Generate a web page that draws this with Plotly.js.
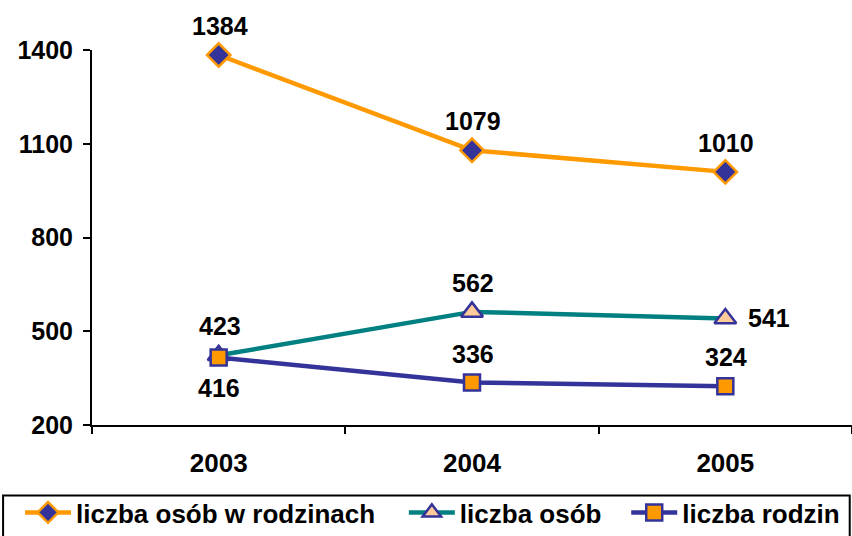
<!DOCTYPE html>
<html><head><meta charset="utf-8">
<script src="https://cdn.plot.ly/plotly-3.0.1.min.js"></script>
<style>body{margin:0;padding:0;background:#fff}#chart{width:852px;height:536px}</style>
</head><body><div id="chart"></div>
<script>
const years = ['2003', '2004', '2005'];
const osobWRodzinach = [1384, 1079, 1010];
const liczbaOsob = [423, 562, 541];
const liczbaRodzin = [416, 336, 324];
const seriesNames = ['liczba osób w rodzinach', 'liczba osób', 'liczba rodzin'];
const yTicks = [200, 500, 800, 1100, 1400];

// where each series' value labels sit relative to its points
const labelSide = [
  ['above', 'above', 'above'],
  ['above', 'above', 'right'],
  ['below', 'above', 'above']
];

const FONT = 'Liberation Sans, Arial, sans-serif';
const lblFont = {family: FONT, size: 25, color: '#000', weight: 'bold'};

const traces = [
  {
    x: years, y: osobWRodzinach, name: seriesNames[0], type: 'scatter', mode: 'lines+markers',
    line: {color: '#FF9900', width: 4.5}, legend: 'legend',
    marker: {symbol: 'diamond', size: 18, color: '#333399', line: {color: '#FF9900', width: 2.5}},
    cliponaxis: false
  },
  {
    x: years, y: liczbaOsob, name: seriesNames[1], type: 'scatter', mode: 'lines+markers',
    line: {color: '#008080', width: 4.5}, legend: 'legend2',
    marker: {symbol: 'triangle-up', size: 19, color: '#FFCC99', line: {color: '#333399', width: 2.5}},
    cliponaxis: false
  },
  {
    x: years, y: liczbaRodzin, name: seriesNames[2], type: 'scatter', mode: 'lines+markers',
    line: {color: '#333399', width: 4.5}, legend: 'legend3',
    marker: {symbol: 'square', size: 16, color: '#FF9900', line: {color: '#333399', width: 2.5}},
    cliponaxis: false
  }
];

const allSeries = [osobWRodzinach, liczbaOsob, liczbaRodzin];
const annotations = [];
allSeries.forEach((vals, s) => {
  vals.forEach((v, i) => {
    const side = labelSide[s][i];
    const a = {
      x: i, y: v, xref: 'x', yref: 'y', text: String(v), showarrow: false,
      font: lblFont, xanchor: 'center', yanchor: 'middle'
    };
    if (side === 'above') { a.yshift = 29; a.xshift = 1; }
    else if (side === 'below') { a.yshift = -30; }
    else { a.xanchor = 'left'; a.xshift = 21; }
    annotations.push(a);
  });
});

const legendBase = {
  orientation: 'h', xref: 'container', yref: 'container', xanchor: 'left', y: -0.008, yanchor: 'bottom',
  borderwidth: 0, bgcolor: 'rgba(0,0,0,0)',
  font: {family: FONT, size: 26, color: '#000', weight: 'bold'},
  itemwidth: 46
};

const layout = {
  width: 852, height: 536,
  margin: {l: 92, r: 0, t: 50, b: 111},
  paper_bgcolor: '#fff', plot_bgcolor: '#fff',
  font: {family: FONT, size: 22, color: '#000', weight: 'bold'},
  showlegend: true,
  xaxis: {
    type: 'category', tickson: 'boundaries', ticks: 'outside', ticklen: 7, tickwidth: 2, tickcolor: '#000',
    showline: true, linecolor: '#000', linewidth: 2, showgrid: false, zeroline: false,
    ticklabelstandoff: 14,
    tickfont: {family: FONT, size: 26, color: '#000', weight: 'bold'}, range: [-0.5, 2.5]
  },
  yaxis: {
    range: [200, 1400], tickvals: yTicks, ticktext: yTicks.map(String),
    ticks: 'outside', ticklen: 7, tickwidth: 2, tickcolor: '#000',
    showline: true, linecolor: '#000', linewidth: 2, showgrid: false, zeroline: false,
    ticklabelstandoff: 5,
    tickfont: {family: FONT, size: 25, color: '#000', weight: 'bold'}
  },
  legend: Object.assign({}, legendBase, {x: 0.0235}),
  legend2: Object.assign({}, legendBase, {x: 0.474}),
  legend3: Object.assign({}, legendBase, {x: 0.735}),
  annotations: annotations,
  shapes: [{
    type: 'rect', xref: 'paper', yref: 'paper',
    x0: -0.117, x1: 0.997, y0: -0.188, y1: -0.31,
    line: {color: '#000', width: 2}, fillcolor: 'rgba(0,0,0,0)'
  }]
};

Plotly.newPlot('chart', traces, layout, {staticPlot: true, displayModeBar: false});
</script></body></html>
